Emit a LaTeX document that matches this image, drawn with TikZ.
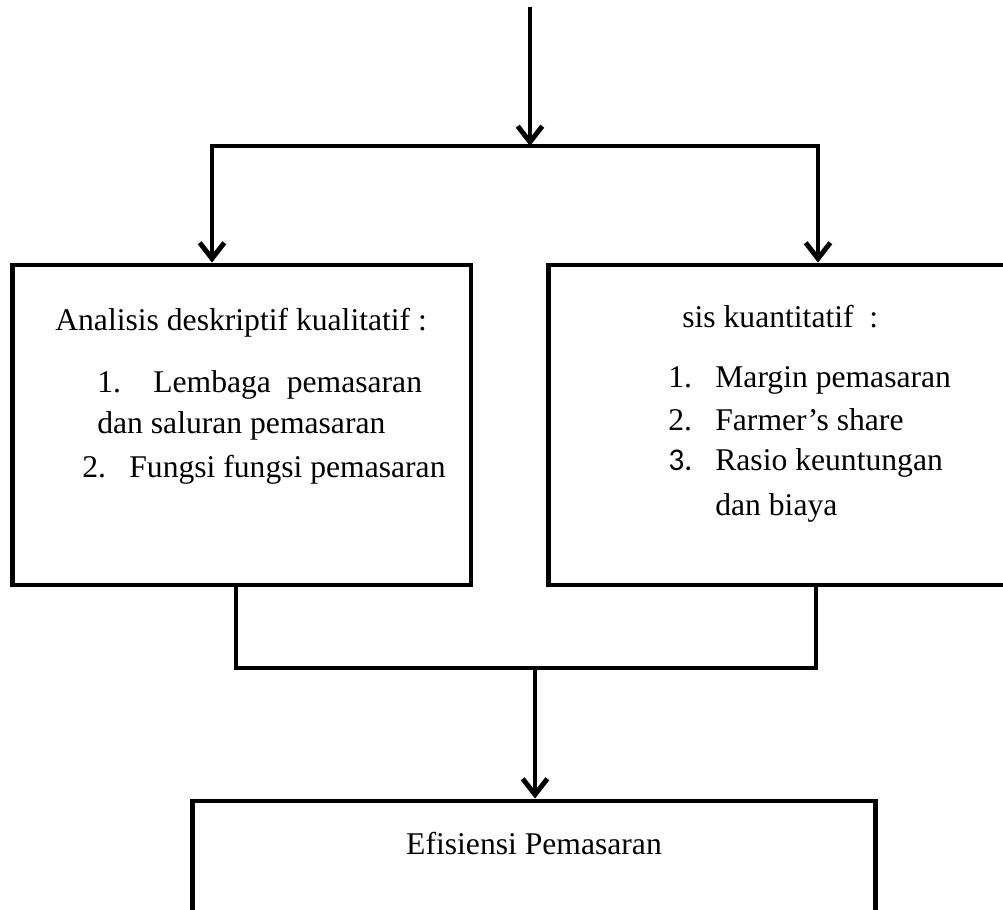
\documentclass[tikz,border=0pt]{standalone}
\usepackage{fontspec}
\setmainfont{Liberation Serif}
\newfontfamily\numfont{Carlito}
\usetikzlibrary{arrows.meta}

\begin{document}
\begin{tikzpicture}[x=0.02cm, y=-0.02cm]
%define
\tikzstyle{box} = [rectangle, draw=black, line width=2.8pt, inner sep=0pt]
\tikzstyle{line} = [line width=2.8pt, line cap=rect]
\tikzstyle{arrow} = [->, >={Straight Barb[length=9pt, width=14pt, line width=2.8pt]}, line width=2.8pt]
\tikzstyle{txt} = [inner sep=0pt, anchor=base west, font=\fontsize{18}{24}\selectfont]

\useasboundingbox (0,0) rectangle (1003,909);

\node[box, minimum width=9.18cm, minimum height=6.4cm](box_Kualitatif) at (241.5,425){};
\node[box, minimum width=9.3cm, minimum height=6.4cm](box_Kuantitatif) at (781,425){};
\node[box, minimum width=13.68cm, minimum height=2.4cm](box_Efisiensi) at (534,861){};

\coordinate (start) at (530,7);
\coordinate (split) at (530,146);
\coordinate (split_L) at (212,146);
\coordinate (split_R) at (818,146);
\coordinate (join_L) at (236,668);
\coordinate (join_R) at (816,668);
\coordinate (join) at (535,668);

% text of the boxes
\node[txt](kual_head) at (55,330){Analisis deskriptif kualitatif :};
\node[txt](kual_n1) at (97,392){1.};
\node[txt](kual_t1) at (153,392){Lembaga\ \ pemasaran};
\node[txt](kual_t1b) at (97,433){dan saluran pemasaran};
\node[txt](kual_n2) at (82,477){2.};
\node[txt](kual_t2) at (129,477){Fungsi fungsi pemasaran};

\node[txt](kuan_head) at (682,327){sis kuantitatif\ \ :};
\node[txt](kuan_n1) at (668,387){1.};
\node[txt](kuan_t1) at (715,387){Margin pemasaran};
\node[txt](kuan_n2) at (668,430){2.};
\node[txt](kuan_t2) at (715,430){Farmer’s share};
\node[txt, font=\fontsize{18}{24}\numfont](kuan_n3) at (668,470){3.};
\node[txt](kuan_t3) at (715,470){Rasio keuntungan};
\node[txt](kuan_t3b) at (715,515){dan biaya};

\node[txt, anchor=base](efis_text) at (534,854){Efisiensi Pemasaran};

% connectors
\draw[arrow](start) -- (split);
\draw[line](split_L) -- (split_R);
\draw[arrow](split_L) -- (split_L |- box_Kualitatif.north);
\draw[arrow](split_R) -- (split_R |- box_Kuantitatif.north);
\draw[line](join_L |- box_Kualitatif.south) -- (join_L) -- (join_R) -- (join_R |- box_Kuantitatif.south);
\draw[arrow](join) -- (join |- box_Efisiensi.north);

\end{tikzpicture}
\end{document}
